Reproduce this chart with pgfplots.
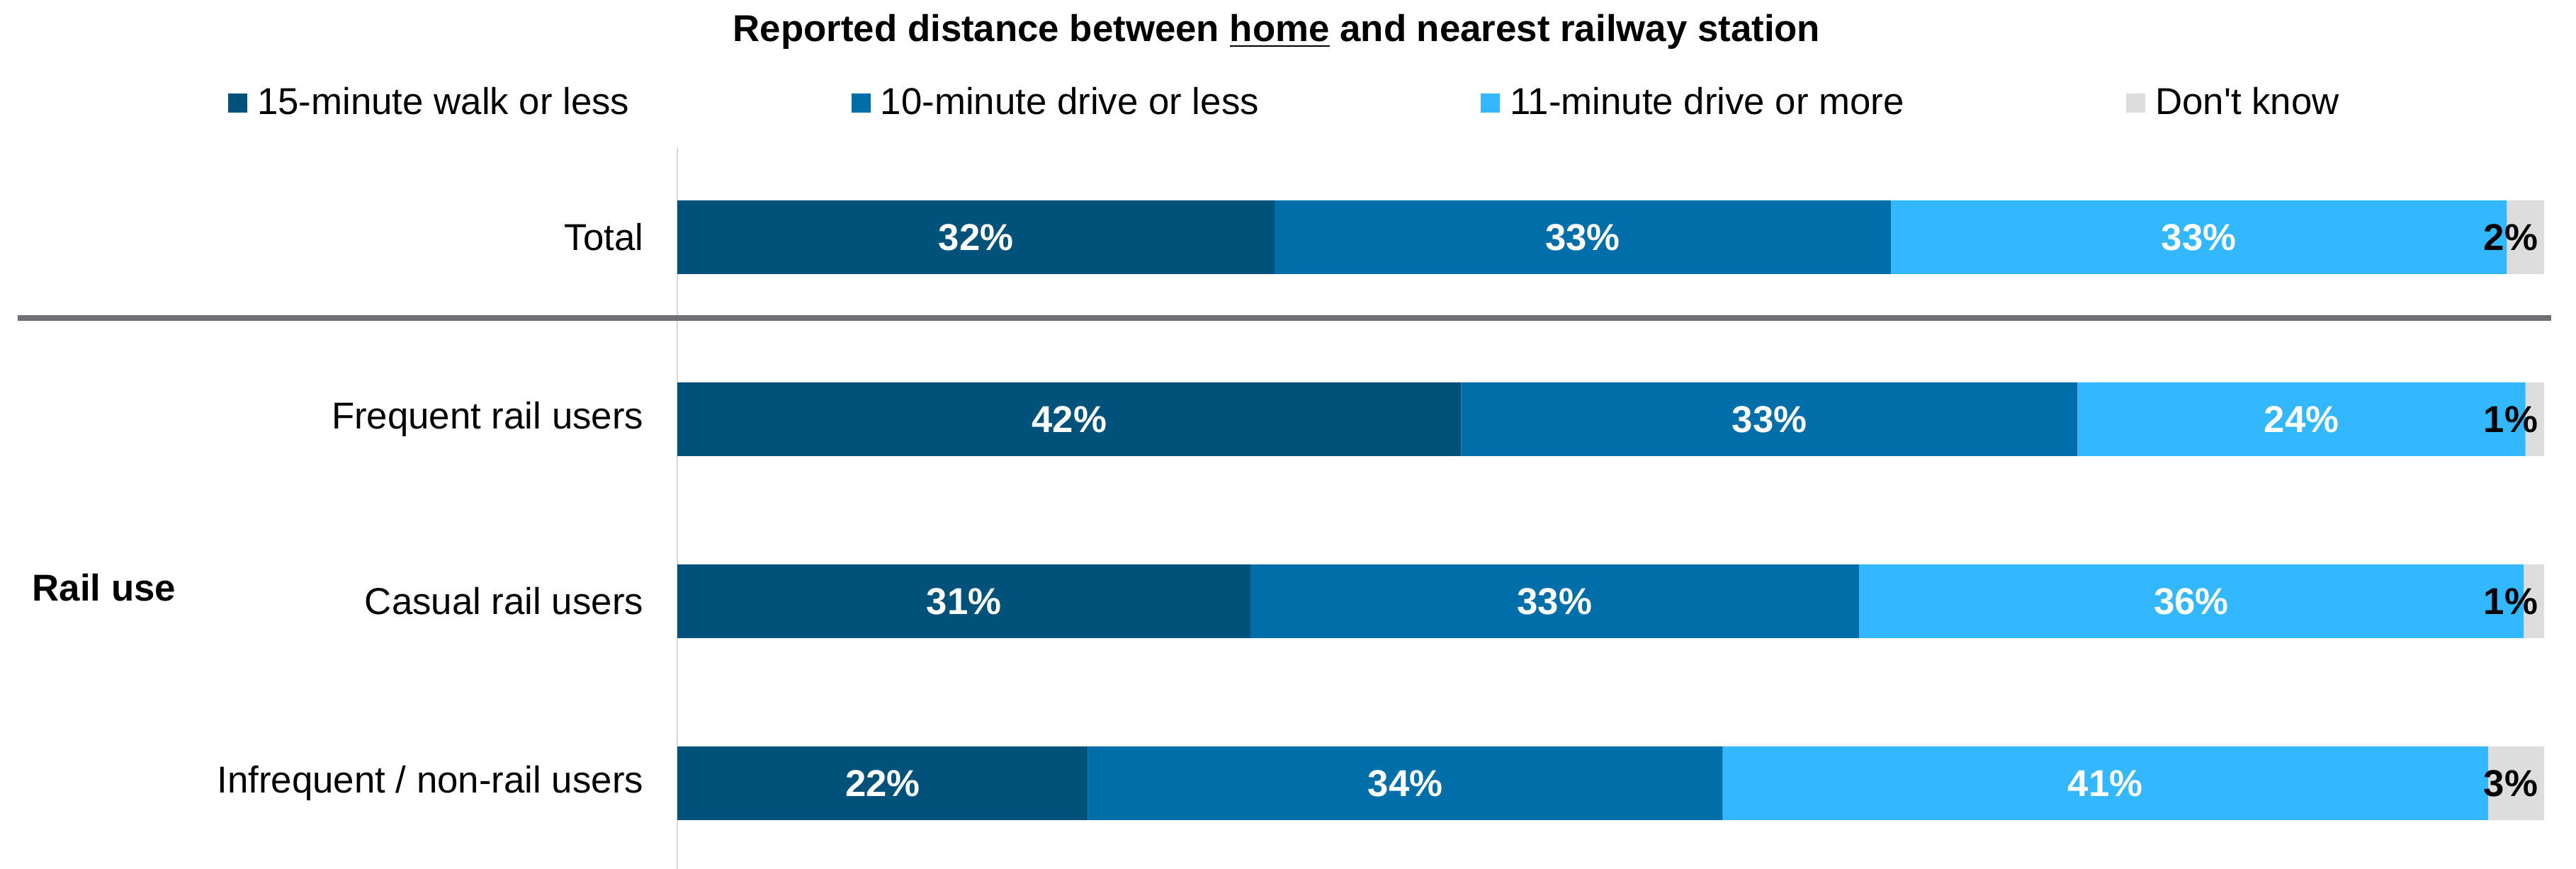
\documentclass[border=0pt]{standalone}
\usepackage{pgfplots}
\usepackage{pgfplotstable}
\pgfplotsset{compat=1.18}
\usepackage{fontspec}
\setmainfont{Liberation Sans}
\definecolor{cA}{HTML}{00527A}
\definecolor{cB}{HTML}{006EA8}
\definecolor{cC}{HTML}{33B7FF}
\definecolor{cD}{HTML}{DDDDDD}
\definecolor{sep}{HTML}{707175}
\definecolor{axl}{HTML}{D9D9D9}
\newcommand{\fs}{\fontsize{13.2}{15.8}\selectfont}

% y: 0 Total, 1 Frequent, 2 Casual, 3 Infrequent
\pgfplotstableread{
y  v    lab
0  32   32\%
1  42   42\%
2  30.7 31\%
3  22   22\%
}\tA
\pgfplotstableread{
y  v    lab
0  33   33\%
1  33   33\%
2  32.6 33\%
3  34   34\%
}\tB
\pgfplotstableread{
y  v    lab
0  33   33\%
1  24   24\%
2  35.6 36\%
3  41   41\%
}\tC
\pgfplotstableread{
y  v    lab
0  2    2\%
1  1    1\%
2  1.1  1\%
3  3    3\%
}\tD

\begin{document}
\fs
\begin{tikzpicture}
\useasboundingbox (0,0) rectangle (909pt,306.75pt);
\begin{axis}[
  at={(239pt,0pt)}, anchor=south west,
  scale only axis, width=658.75pt, height=254.75pt,
  xbar stacked, bar width=26pt,
  xmin=0, xmax=100,
  ymin=-0.494, ymax=3.471, y dir=reverse,
  axis x line=none,
  axis y line*=left,
  y axis line style={draw=axl, line width=0.4pt},
  ytick={0,1,2,3},
  yticklabels={Total, Frequent rail users, Casual rail users, Infrequent / non-rail users},
  major tick length=0pt,
  yticklabel style={font=\fs, inner sep=0pt, xshift=-11.75pt},
  point meta=explicit symbolic,
  nodes near coords,
  nodes near coords style={font=\fs\bfseries, anchor=center},
  legend columns=4,
  legend style={draw=none, fill=none, at={(-0.2406,1.0)}, anchor=south west, yshift=8.75pt,
    font=\fs, inner sep=0pt, outer sep=0pt,
    /tikz/every even column/.append style={column sep=77.3pt},
    /tikz/every odd column/.append style={column sep=2.5pt},
    nodes={inner sep=1pt}},
  legend image code/.code={\fill[#1] (0pt,-3.4pt) rectangle (6.8pt,3.4pt);},
  clip=false,
]
\addplot+[draw=none, fill=cA, nodes near coords style={text=white}] table[x=v, y=y, meta=lab] {\tA};
\addplot+[draw=none, fill=cB, nodes near coords style={text=white}] table[x=v, y=y, meta=lab] {\tB};
\addplot+[draw=none, fill=cC, nodes near coords style={text=white}] table[x=v, y=y, meta=lab] {\tC};
\addplot+[draw=none, fill=cD,
  visualization depends on={\thisrow{v} \as \vv},
  nodes near coords style={text=black, anchor=east, inner xsep=0pt, xshift={\vv*3.29375pt-2pt}}]
  table[x=v, y=y, meta=lab] {\tD};
\legend{15-minute walk or less, 10-minute drive or less, 11-minute drive or more, Don\textquotesingle t know}
\end{axis}
\draw[sep, line width=2pt] (6.25pt,194.5pt) -- (900.25pt,194.5pt);
\node[font=\fs\bfseries, anchor=west, inner sep=0pt] at (11.25pt,99.25pt) {Rail use};
\node[font=\fs\bfseries, anchor=base, inner sep=0pt] at (450.5pt,292pt) {Reported distance between \underline{home} and nearest railway station};
\end{tikzpicture}
\end{document}
